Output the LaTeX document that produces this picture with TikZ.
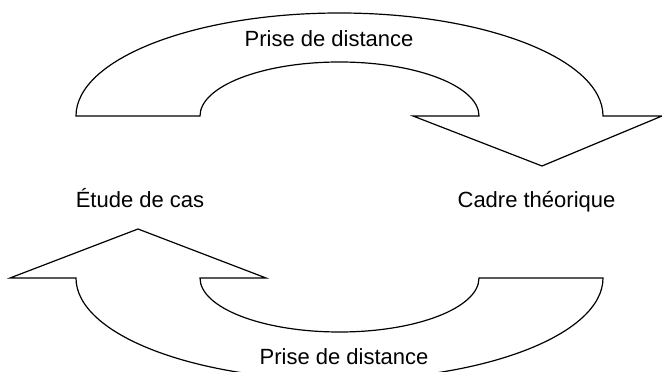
\documentclass[tikz,border=0pt]{standalone}
\usepackage{fontspec}
\setmainfont{Liberation Sans}
\begin{document}
\begin{tikzpicture}[x=1pt,y=1pt,
  arrowshape/.style={draw=black,line width=1.2pt,line join=miter,fill=white},
  lbl/.style={font=\fontsize{22}{26}\selectfont,anchor=base,inner sep=0pt}]
\useasboundingbox (0,0) rectangle (662,372);
% top curved arrow
\draw[arrowshape] (76,256) arc[start angle=180,end angle=0,x radius=263.5,y radius=103]
  -- (662,256) -- (542,206) -- (413,256) -- (479,256)
  arc[start angle=0,end angle=180,x radius=139.5,y radius=54] -- cycle;
% bottom curved arrow
\draw[arrowshape] (76,94) arc[start angle=180,end angle=360,x radius=263.5,y radius=102]
  -- (479,94) arc[start angle=0,end angle=-180,x radius=139.5,y radius=54]
  -- (266,94) -- (138,143) -- (10,94) -- cycle;
\node[lbl] (top) at (329,325) {Prise de distance};
\node[lbl] (etude) at (140,164) {Étude de cas};
\node[lbl] (cadre) at (536.5,164) {Cadre théorique};
\node[lbl] (bot) at (344,7) {Prise de distance};
\end{tikzpicture}
\end{document}
